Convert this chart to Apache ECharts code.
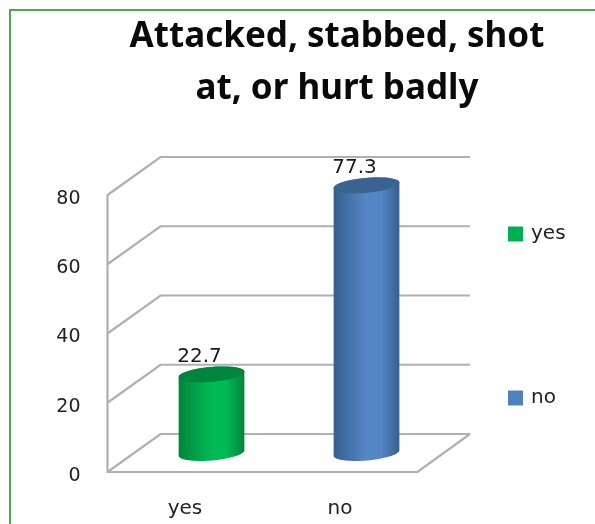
<!DOCTYPE html>
<html>
<head>
<meta charset="utf-8">
<style>
  html, body { margin: 0; padding: 0; background: #fff; }
  #chart { width: 595px; height: 524px; }
</style>
<script src="https://cdn.jsdelivr.net/npm/echarts@6/dist/echarts.min.js"></script>
</head>
<body>
<div id="chart"></div>
<script>
const categories = ['yes', 'no'];
const values = [22.7, 77.3];
const tickValues = [0, 20, 40, 60, 80];
const titleText = 'Attacked, stabbed, shot\nat, or hurt badly';

// 3d look: back wall is shifted from the front plane by this much
const DEPTH_X = 53;
const DEPTH_Y = -38;
const WALL_RIGHT = 470;
const LINE_COLOR = '#b0b0b0';
const FONT = '"DejaVu Sans", sans-serif';

const barColors = [
  { edge: '#00843c', mid: '#00bb55', top: '#00853f', legend: '#00b050' },
  { edge: '#365f8e', mid: '#5686c6', top: '#3b6391', legend: '#4f81bd' }
];

// points of a slightly tilted ellipse, from angle a0 to a1
function ellipsePoints(cx, cy, rx, ry, a0, a1) {
  const tilt = -5 * Math.PI / 180;
  const pts = [];
  for (let i = 0; i <= 40; i++) {
    const a = a0 + (a1 - a0) * i / 40;
    const ex = rx * Math.cos(a);
    const ey = ry * Math.sin(a);
    pts.push([
      cx + ex * Math.cos(tilt) - ey * Math.sin(tilt),
      cy + ex * Math.sin(tilt) + ey * Math.cos(tilt)
    ]);
  }
  return pts;
}

function renderWall(params, api) {
  const v = api.value(0);
  const p = api.coord([0, v]);
  const left = params.coordSys.x;
  const right = left + params.coordSys.width;
  const y = p[1];
  const children = [{
    type: 'polyline',
    shape: { points: [[left, y], [left + DEPTH_X, y + DEPTH_Y], [WALL_RIGHT, y + DEPTH_Y]] },
    style: { stroke: LINE_COLOR, lineWidth: 2.2, fill: 'none' }
  }];
  if (v === 0) {
    children.push({
      type: 'polyline',
      shape: { points: [[left, params.coordSys.y], [left, y], [right, y], [WALL_RIGHT, y + DEPTH_Y]] },
      style: { stroke: LINE_COLOR, lineWidth: 2.2, fill: 'none' }
    });
  }
  return { type: 'group', children: children };
}

function renderCylinder(idx) {
  return function (params, api) {
    const top = api.coord([api.value(0), api.value(1)]);
    const base = api.coord([api.value(0), 0]);
    const cx = top[0] + DEPTH_X / 2;
    const rx = 33;
    const ry = 7.5;
    const topY = top[1] + DEPTH_Y / 2;
    const baseY = base[1] + DEPTH_Y / 2;
    const c = barColors[idx];
    // front half of the base, then back up over the top
    const body = ellipsePoints(cx, baseY, rx, ry, 0, Math.PI)
      .concat(ellipsePoints(cx, topY, rx, ry, Math.PI, 2 * Math.PI));
    return {
      type: 'group',
      children: [
        {
          type: 'polygon',
          shape: { points: body },
          style: {
            fill: new echarts.graphic.LinearGradient(0, 0, 1, 0, [
              { offset: 0, color: c.edge },
              { offset: 0.5, color: c.mid },
              { offset: 0.72, color: c.mid },
              { offset: 1, color: c.edge }
            ])
          }
        },
        {
          type: 'polygon',
          shape: { points: ellipsePoints(cx, topY, rx, ry, 0, 2 * Math.PI) },
          style: { fill: c.top }
        },
        {
          type: 'text',
          style: {
            text: String(api.value(1)),
            x: cx - 12,
            y: topY - 18,
            align: 'center',
            verticalAlign: 'middle',
            fill: '#1a1a1a',
            font: '20px ' + FONT
          }
        }
      ]
    };
  };
}

const chart = echarts.init(document.getElementById('chart'));

chart.setOption({
  backgroundColor: '#fff',
  animation: false,
  title: {
    text: titleText,
    left: 332,
    top: 6,
    textAlign: 'center',
    textStyle: {
      fontFamily: '"Noto Sans", sans-serif',
      fontWeight: 'bold',
      fontSize: 35,
      lineHeight: 52,
      color: '#0a0a0a'
    }
  },
  legend: {
    data: categories,
    orient: 'vertical',
    left: 508,
    top: 224,
    padding: 0,
    itemWidth: 15,
    itemHeight: 15,
    itemGap: 144,
    icon: 'rect',
    textStyle: { fontFamily: FONT, fontSize: 20, color: '#222', padding: [0, 0, 0, 3] }
  },
  grid: { left: 107.5, top: 195, width: 310, height: 277 },
  xAxis: {
    type: 'category',
    data: categories,
    axisLine: { show: false },
    axisTick: { show: false },
    axisLabel: { fontFamily: FONT, fontSize: 20, color: '#222', margin: 27 }
  },
  yAxis: {
    type: 'value',
    min: 0,
    max: 80,
    interval: 20,
    axisLine: { show: false },
    axisTick: { show: false },
    splitLine: { show: false },
    axisLabel: { fontFamily: FONT, fontSize: 19, color: '#222', margin: 27, verticalAlign: 'top', lineHeight: 8 }
  },
  series: [
    {
      type: 'custom',
      silent: true,
      z: 1,
      data: tickValues.map(v => [v]),
      encode: { y: 0 },
      renderItem: renderWall
    }
  ].concat(categories.map((name, i) => ({
    type: 'custom',
    name: name,
    z: 2,
    itemStyle: { color: barColors[i].legend },
    data: [[i, values[i]]],
    encode: { x: 0, y: 1 },
    renderItem: renderCylinder(i)
  }))),
  graphic: [
    {
      type: 'polyline',
      shape: { points: [[10, 524], [10, 10], [595, 10]] },
      style: { stroke: '#4fa552', lineWidth: 2, fill: 'none' },
      silent: true
    }
  ]
});
</script>
</body>
</html>
